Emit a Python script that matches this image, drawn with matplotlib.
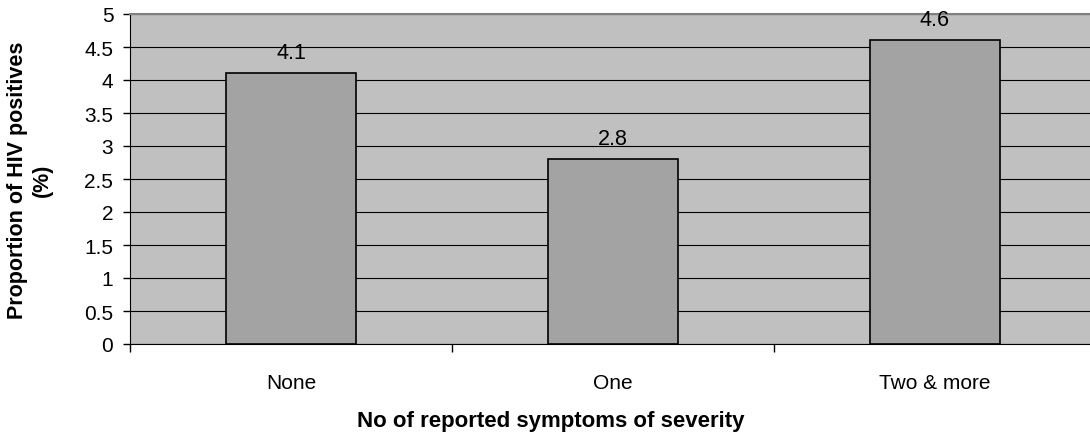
import numpy as np
import matplotlib.pyplot as plt

categories = ["None", "One", "Two & more"]
values = [4.1, 2.8, 4.6]
y_ticks = [0, 0.5, 1, 1.5, 2, 2.5, 3, 3.5, 4, 4.5, 5]

plt.rcParams['font.family'] = ['Liberation Sans', 'DejaVu Sans']

fig = plt.figure(figsize=(10.9, 4.39), dpi=100)
# plot area runs slightly past the right edge of the image
ax = fig.add_axes([130 / 1090, 1 - 345 / 439, 966 / 1090, 330 / 439])
ax.set_facecolor('#c0c0c0')

x = np.arange(len(categories))
ax.bar(x, values, width=0.404, color='#a3a3a3', edgecolor='black', linewidth=1.2, zorder=3)

for xi, v in zip(x, values):
    ax.annotate(f"{v}", (xi, v), xytext=(0, 11), textcoords='offset points',
                ha='center', va='baseline', fontsize=15.5, zorder=4)

ax.set_xlim(-0.5, 2.5)
ax.set_ylim(0, 5)
ax.set_yticks(y_ticks)
ax.set_yticklabels([f"{t:g}" for t in y_ticks], fontsize=15)
ax.yaxis.grid(True, color='black', linewidth=0.8, zorder=1)
ax.set_axisbelow(True)

# category labels centred under bars, ticks on the boundaries
ax.set_xticks(x)
ax.set_xticklabels(categories, fontsize=15)
ax.tick_params(axis='x', length=0, pad=21)
ax.set_xticks([-0.5, 0.5, 1.5, 2.5], minor=True)
ax.tick_params(axis='x', which='minor', length=5.5, width=1, color='black')
ax.tick_params(axis='y', length=5, width=1, color='black', pad=7)

ax.spines['top'].set_color('#808080')
ax.spines['top'].set_linewidth(1.5)
ax.spines['right'].set_visible(False)
ax.spines['left'].set_color('black')
ax.spines['bottom'].set_color('black')

ax.set_ylabel("Proportion of HIV positives\n(%)", fontsize=15.5, fontweight='bold',
              linespacing=1.2)
ax.yaxis.label.set_va('center')
ax.yaxis.set_label_coords(-100 / 966, 0.5)
ax.set_xlabel("No of reported symptoms of severity", fontsize=16, fontweight='bold')
ax.xaxis.set_label_coords((551 - 130) / 966, -(422 - 345) / 330)
ax.xaxis.label.set_va('center')

fig.savefig("out.png", dpi=100)
